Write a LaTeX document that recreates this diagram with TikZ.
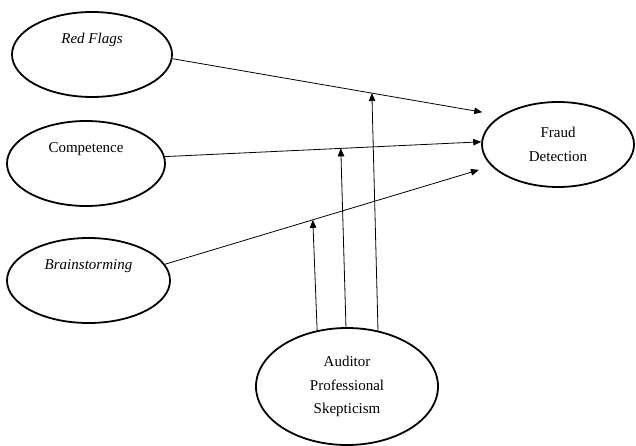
\documentclass[tikz,border=0pt]{standalone}
\usepackage{fontspec}
\setmainfont{Liberation Serif}
\usetikzlibrary{arrows.meta,shapes.geometric}

\begin{document}
\begin{tikzpicture}[x=1pt,y=1pt,font=\fontsize{15}{23.5}\selectfont,
 var/.style={draw,ellipse,line width=1.8pt,inner sep=0pt,align=center},
 hi/.style={text height=10pt,text depth=32pt},
 arr/.style={-{Triangle[length=8pt,width=6.5pt]},line width=.8pt}]
\useasboundingbox (0,0) rectangle (636,-446);
\node[var,hi,minimum width=160pt,minimum height=85pt] (flags) at (92,-54.5) {\textit{Red Flags}};
\node[var,hi,minimum width=158pt,minimum height=85pt] (comp) at (86,-163.5) {Competence};
\node[var,hi,minimum width=163pt,minimum height=85pt] (brain) at (88.5,-280.5) {\textit{Brainstorming}};
\node[var,minimum width=152pt,minimum height=85pt] (fraud) at (558,-144.5) {Fraud\\Detection};
\node[var,minimum width=182pt,minimum height=117pt] (aps) at (347,-386.5) {Auditor\\Professional\\Skepticism};
\draw[arr,shorten >=19pt] (flags.-3)--(fraud.153) coordinate[pos=.607] (m3);
\draw[arr] (comp.5)--(fraud.178) coordinate[pos=.556] (m2);
\draw[arr,shorten >=13pt] (brain.12)--(fraud.198) coordinate[pos=.453] (m1);
\draw[arr] (aps.118)--(m1);
\draw[arr] (aps.91)--(m2);
\draw[arr] (aps.61)--(m3);
\end{tikzpicture}
\end{document}
